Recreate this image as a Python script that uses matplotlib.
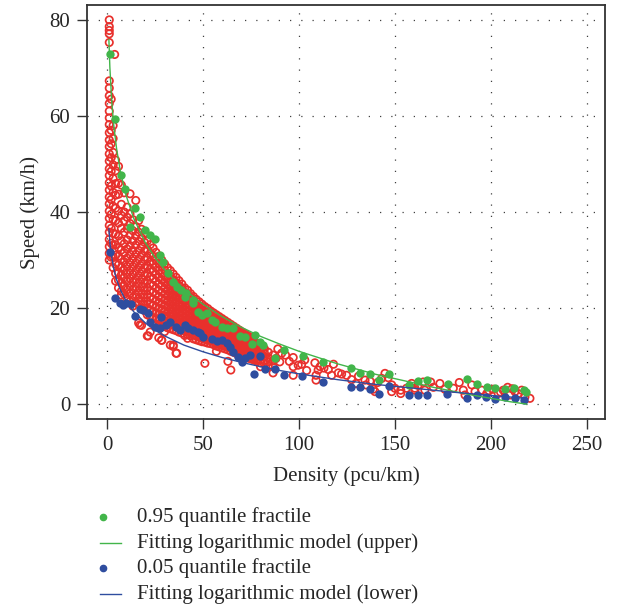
import matplotlib
matplotlib.use("Agg")
import matplotlib.pyplot as plt
from matplotlib.lines import Line2D

plt.rcParams['font.family'] = ['Liberation Serif', 'DejaVu Serif']

# observed speed/density points, grouped in columns of roughly equal density
red_col_k = [1.2, 2.2, 3.2, 4.5, 6.0, 7.5, 9.0, 10.5, 12.0, 13.5, 15.0, 16.5, 18.0,
             19.5, 21.0, 22.5, 24.0, 25.5, 27.0, 28.5, 30.0, 31.5, 33.0, 34.5, 36.0,
             37.5, 39.0, 40.5, 42.0, 43.5, 45.0, 46.5, 48.0, 49.5, 51.0, 52.5, 54.0,
             55.5, 57.0, 58.5, 60.0, 61.5, 63.0, 64.5, 66.0, 67.5, 69.0, 70.5, 72.0,
             73.5, 75.0, 76.5, 78.0, 80.0, 82.0, 84.0, 86.5]
red_col_v = [
    [80.0, 78.6, 77.8, 77.1, 75.3, 67.3, 65.8, 64.2, 62.6, 61.0, 59.6, 58.2, 56.5, 55.0, 53.6,
     52.1, 50.6, 49.0, 47.6, 46.1, 44.6, 43.1, 41.7, 40.2, 38.7, 37.2, 35.8, 34.3, 32.8, 31.4, 30.0],
    [57.0, 54.2, 51.3, 48.5, 45.4, 42.6, 39.5, 36.6, 33.5, 30.6],
    [58.0, 55.3, 52.4, 49.8, 47.0, 44.1, 41.2, 38.4, 35.6, 33.1, 30.7, 28.4],
    [50.8, 48.6, 45.9, 43.5, 40.8, 38.2, 35.4, 33.2, 31.0, 29.1, 27.2, 25.6],
    [49.5, 46.0, 43.7, 40.2, 37.7, 35.0, 32.6, 30.8, 29.0, 27.4, 25.8, 24.2],
    [45.6, 41.6, 39.3, 36.6, 34.0, 32.1, 30.2, 28.5, 26.9, 25.2, 23.5, 22.7],
    [44.0, 40.0, 38.2, 35.8, 33.4, 31.5, 29.6, 27.9, 26.3, 24.6, 22.9],
    [41.0, 38.9, 36.5, 34.2, 32.3, 30.4, 28.7, 27.1, 25.5, 23.8, 22.0],
    [43.8, 39.6, 37.6, 35.2, 33.0, 31.2, 29.5, 27.8, 26.2, 24.6, 23.0, 21.4],
    [38.4, 36.1, 34.0, 32.0, 30.3, 28.6, 27.0, 25.4, 23.8, 22.2, 20.4],
    [42.4, 37.0, 35.0, 33.1, 31.2, 29.4, 27.7, 26.0, 24.4, 22.8, 21.2],
    [38.2, 35.8, 33.9, 32.0, 30.2, 28.5, 26.8, 25.2, 23.6, 22.0, 20.8, 16.9],
    [36.4, 34.6, 32.8, 31.0, 29.2, 27.6, 26.0, 24.4, 22.9, 21.4, 20.0, 16.4],
    [35.6, 33.7, 31.9, 30.1, 28.4, 26.8, 25.2, 23.7, 22.2, 20.8, 19.5],
    [34.0, 32.2, 30.5, 28.8, 27.2, 25.7, 24.2, 22.8, 21.4, 20.0, 18.6, 14.2],
    [33.2, 31.4, 29.7, 28.1, 26.5, 25.0, 23.6, 22.2, 20.9, 19.6, 18.3, 15.0],
    [32.5, 30.8, 29.2, 27.6, 26.1, 24.7, 23.3, 21.9, 20.6, 19.3, 18.0, 16.8],
    [31.6, 30.0, 28.5, 27.0, 25.6, 24.2, 22.9, 21.6, 20.3, 19.0, 17.8, 16.6],
    [30.8, 29.3, 27.8, 26.4, 25.0, 23.7, 22.4, 21.2, 20.0, 18.8, 17.6, 16.4, 13.8],
    [30.0, 28.6, 27.2, 25.9, 24.6, 23.3, 22.1, 20.9, 19.7, 18.5, 17.3, 16.2, 13.3],
    [29.2, 27.9, 26.6, 25.3, 24.1, 22.9, 21.7, 20.6, 19.5, 18.4, 17.3, 16.2, 15.1],
    [28.4, 27.2, 26.0, 24.8, 23.6, 22.5, 21.4, 20.3, 19.2, 18.1, 17.0, 15.9],
    [27.8, 26.6, 25.4, 24.2, 23.1, 22.0, 20.9, 19.8, 18.8, 17.8, 16.8, 15.7, 12.3],
    [27.1, 25.9, 24.8, 23.7, 22.6, 21.5, 20.5, 19.5, 18.5, 17.5, 16.5, 15.5, 12.0],
    [26.4, 25.3, 24.2, 23.2, 22.2, 21.2, 20.2, 19.2, 18.2, 17.3, 16.3, 15.3, 10.6],
    [25.7, 24.7, 23.7, 22.7, 21.7, 20.7, 19.8, 18.9, 17.9, 17.0, 16.0, 15.0],
    [25.0, 24.0, 23.0, 22.1, 21.2, 20.3, 19.4, 18.5, 17.6, 16.7, 15.8, 14.8],
    [24.2, 23.3, 22.4, 21.5, 20.6, 19.7, 18.8, 17.9, 17.0, 16.1, 15.2, 14.3],
    [23.7, 22.8, 21.9, 21.0, 20.1, 19.3, 18.5, 17.7, 16.9, 16.1, 15.3, 14.5, 13.7],
    [23.0, 22.2, 21.4, 20.6, 19.8, 19.0, 18.2, 17.4, 16.6, 15.8, 15.0, 14.2],
    [22.4, 21.6, 20.8, 20.0, 19.2, 18.4, 17.6, 16.8, 16.0, 15.2, 14.4, 13.6],
    [21.8, 21.0, 20.3, 19.5, 18.8, 18.0, 17.3, 16.5, 15.8, 15.0, 14.2, 13.4],
    [21.3, 20.5, 19.8, 19.1, 18.4, 17.6, 16.9, 16.2, 15.5, 14.7, 14.0, 13.2],
    [20.8, 20.1, 19.4, 18.7, 18.0, 17.3, 16.6, 15.9, 15.2, 14.5, 13.8, 13.0],
    [20.3, 19.6, 18.9, 18.2, 17.5, 16.9, 16.2, 15.6, 14.9, 14.3, 13.6, 12.9, 8.5],
    [19.9, 19.2, 18.5, 17.9, 17.3, 16.6, 16.0, 15.3, 14.7, 14.0, 13.4, 12.7],
    [19.4, 18.8, 18.1, 17.5, 16.9, 16.3, 15.7, 15.1, 14.5, 13.8, 13.2, 12.6],
    [19.0, 18.4, 17.8, 17.2, 16.6, 16.0, 15.4, 14.8, 14.2, 13.6, 13.0, 12.4],
    [18.6, 18.0, 17.4, 16.8, 16.2, 15.7, 15.1, 14.5, 13.9, 13.3, 12.7, 12.1, 11.0],
    [18.2, 17.6, 17.0, 16.5, 15.9, 15.4, 14.8, 14.2, 13.7, 13.1, 12.5, 11.9],
    [17.8, 17.2, 16.7, 16.1, 15.6, 15.1, 14.5, 14.0, 13.4, 12.9, 12.3, 11.7],
    [17.4, 16.9, 16.3, 15.8, 15.3, 14.8, 14.3, 13.7, 13.2, 12.7, 12.1, 11.5],
    [17.0, 16.5, 16.0, 15.5, 15.0, 14.5, 14.0, 13.5, 13.0, 12.4, 11.9, 11.3, 8.9],
    [16.6, 16.1, 15.6, 15.1, 14.6, 14.1, 13.6, 13.1, 12.6, 12.1, 11.6, 11.0, 7.1],
    [16.2, 15.7, 15.2, 14.8, 14.3, 13.8, 13.3, 12.8, 12.3, 11.8, 11.3, 10.8],
    [15.8, 15.3, 14.9, 14.4, 14.0, 13.5, 13.0, 12.5, 12.0, 11.5, 11.0, 10.5],
    [15.4, 15.0, 14.5, 14.1, 13.6, 13.2, 12.7, 12.2, 11.8, 11.3, 10.8, 10.3],
    [15.0, 14.6, 14.2, 13.7, 13.3, 12.9, 12.4, 12.0, 11.5, 11.0, 10.6, 10.1],
    [14.6, 14.2, 13.8, 13.4, 13.0, 12.6, 12.1, 11.7, 11.3, 10.8, 10.3, 9.9],
    [14.2, 13.8, 13.4, 13.0, 12.6, 12.2, 11.8, 11.4, 11.0, 10.5, 10.1, 9.6],
    [13.8, 13.4, 13.0, 12.6, 12.2, 11.8, 11.4, 11.0, 10.6, 10.2, 9.8, 9.4],
    [13.2, 12.8, 12.4, 12.0, 11.6, 11.2, 10.8, 10.4, 10.0, 9.6, 9.2],
    [12.7, 12.2, 11.8, 11.3, 10.9, 10.5, 10.1, 9.7, 9.3, 8.9],
    [12.3, 11.6, 11.0, 10.4, 9.8, 9.2, 8.6, 7.8],
    [11.5, 10.6, 9.9, 9.0, 8.4],
    [10.8, 9.6, 8.8, 7.9],
    [10.2, 9.0, 7.8, 6.5],
]

# scattered observations (outliers and the sparse high-density tail)
red_k = [4.0, 2.2, 17.2, 21.5, 28.5, 34.5, 36.3, 88, 89, 90, 91, 93, 95, 97, 97, 97, 99.6,
         101.4, 103, 104, 108.3, 108.9, 108.9, 110, 111, 113, 115.3, 117, 118, 120.5, 122.2,
         124.8, 127.4, 129.7, 131, 134.4, 134.9, 137, 138.7, 139.6, 141, 143.1, 144.8, 146.5,
         148.3, 148.3, 150, 153, 153, 156, 158.7, 160.4, 160.4, 162, 164.7, 165.6, 168.6, 170,
         173.4, 176, 180.4, 183.5, 185.6, 186.5, 190, 191.7, 195.2, 197.8, 199, 201.2, 203.8,
         205, 206.4, 208.7, 209.9, 211, 212.5, 214.2, 216, 217.7, 220.3]
red_v = [72.8, 63.5, 16.5, 14.2, 13.3, 12.3, 10.6, 9.5, 11.5, 8.8, 10.6, 10.2, 8.9, 9.7, 7.8, 6.0,
         8.1, 8.3, 9.2, 7.0, 8.6, 6.0, 5.0, 7.1, 7.8, 7.5, 7.2, 6.0, 8.3, 6.5, 6.25, 6.0, 5.1, 4.3,
         5.8, 5.0, 4.0, 4.8, 3.1, 2.6, 4.5, 5.35, 6.4, 5.5, 4.0, 2.6, 3.3, 2.9, 2.2, 3.3, 4.3, 3.3,
         2.9, 3.9, 4.6, 2.9, 4.6, 3.5, 4.3, 3.1, 3.3, 4.5, 2.9, 1.9, 4.0, 2.6, 2.9, 2.2, 2.8, 3.1,
         2.2, 2.5, 2.9, 3.5, 1.9, 3.2, 2.6, 2.2, 2.9, 1.5, 1.2]

# 0.95 quantile fractile
upper_k = [1.7, 4.3, 7.1, 9.2, 12.1, 14.4, 17.0, 19.6, 22.2, 24.8, 27.4, 29.2, 31.8, 34.4,
           36.6, 38.7, 40.6, 41.3, 44.8, 45.0, 47.4, 49.3, 51.9, 54.5, 56.2, 59.7, 62.3, 65.8,
           69.3, 71.9, 75.4, 77.1, 79.7, 81.4, 87.5, 92.2, 101.9, 112.3, 127.1, 131.8, 137.0,
           141.8, 147.0, 157.5, 162.2, 166.5, 177.4, 187.3, 192.5, 197.8, 202.0, 207.3, 212.2,
           217.3, 218.0]
upper_v = [72.8, 59.4, 47.8, 44.7, 36.9, 40.9, 38.9, 36.25, 35.2, 34.3, 31.0, 29.6, 27.2, 25.5,
           24.4, 23.75, 22.4, 23.1, 21.7, 21.0, 19.2, 18.5, 18.9, 17.5, 17.1, 16.1, 15.8, 15.8,
           14.2, 13.9, 12.6, 14.4, 13.0, 12.3, 9.5, 11.2, 10.0, 8.8, 7.6, 6.4, 6.25,
           5.1, 6.25, 4.0, 4.9, 5.0, 4.1, 5.2, 4.1, 3.6, 3.3, 3.1, 3.3,
           2.9, 2.5]

# 0.05 quantile fractile
lower_k = [1.7, 4.0, 6.6, 8.3, 10.1, 12.7, 14.4, 17.0, 18.75, 21.4, 22.2, 25.2, 27.4, 28.3,
           30.9, 32.6, 36.1, 37.8, 40.4, 42.2, 45.0, 47.4, 48.4, 50.2, 54.5, 57.1, 59.7, 62.3,
           64.1, 65.8, 68.4, 70.1, 71.9, 74.5, 76.7, 79.7, 82.3, 87.5, 92.2, 101.6, 112.3,
           127.1, 131.8, 137.0, 141.8, 147.0, 157.5, 162.2, 166.5, 177.3, 187.3, 192.5, 197.4,
           202.0, 207.3, 212.5, 217.3]
lower_v = [31.7, 22.0, 21.0, 20.6, 21.0, 20.8, 18.3, 19.9, 19.6, 19.0, 17.1, 16.0, 15.8, 18.1,
           16.5, 17.1, 16.1, 15.4, 16.5, 15.8, 15.4, 15.1, 14.9, 14.0, 13.5, 13.2, 13.3, 12.8,
           11.9, 10.9, 9.9, 8.8, 9.5, 10.2, 6.2, 10.0, 7.3, 7.3, 6.0, 5.8, 4.5,
           3.5, 3.5, 3.2, 2.1, 3.75, 1.9, 1.9, 2.0, 2.2, 1.2, 1.9, 1.5,
           1.0, 1.5, 1.3, 0.8]

# fitted logarithmic curves
fit_up_k = [1, 1.5, 2.5, 3.5, 5, 7, 10, 14, 20, 25, 30, 40, 50, 60, 70, 80, 90, 100, 110,
            120, 130, 140, 150, 160, 170, 180, 190, 200, 210, 218.5]
fit_up_v = [75.9, 70.2, 62.9, 58.2, 53.2, 48.4, 43.4, 38.6, 33.6, 30.5, 28.0, 23.9, 20.8, 18.2,
            16.0, 14.1, 12.5, 11.0, 9.7, 8.4, 7.3, 6.2, 5.3, 4.4, 3.5, 2.7, 1.9, 1.2, 0.5, 0.0]
fit_lo_k = [1, 1.6, 2.5, 3.5, 5, 7, 10, 14, 20, 25, 30, 40, 50, 60, 70, 80, 90, 100, 120,
            140, 160, 180, 200, 218.5]
fit_lo_v = [36.5, 33.4, 30.5, 28.3, 25.9, 23.8, 21.4, 19.2, 16.9, 15.4, 14.2, 12.3, 10.9, 9.7,
            8.7, 7.8, 7.0, 6.3, 5.1, 4.1, 3.3, 2.5, 1.8, 1.2]

RED = '#e8302c'
GREEN = '#42b54a'
BLUE = '#2f4d9f'
FS = 15

fig = plt.figure(figsize=(6.18, 6.09), dpi=100)
ax = fig.add_axes([87 / 618, 1 - 419 / 609, 518 / 618, 414 / 609])

all_k = []
all_v = []
for k, vs in zip(red_col_k, red_col_v):
    all_k += [k] * len(vs)
    all_v += vs
all_k += red_k
all_v += red_v

ax.scatter(all_k, all_v, s=28, facecolors='none', edgecolors=RED, linewidths=1.25, zorder=2)
ax.scatter(upper_k, upper_v, s=36, color=GREEN, zorder=3, linewidths=0)
ax.scatter(lower_k, lower_v, s=36, color=BLUE, zorder=3, linewidths=0)
ax.plot(fit_up_k, fit_up_v, color=GREEN, lw=1.0, zorder=4)
ax.plot(fit_lo_k, fit_lo_v, color=BLUE, lw=1.0, zorder=4)

ax.set_xlim(-10.4, 259.4)
ax.set_ylim(-3.1, 83.1)
ax.set_xticks([0, 50, 100, 150, 200, 250])
ax.set_yticks([0, 20, 40, 60, 80])
ax.grid(True, color='0.25', linestyle=(0, (1, 8)), linewidth=0.9)
ax.set_axisbelow(True)
for sp in ax.spines.values():
    sp.set_linewidth(1.3)
    sp.set_color('0.2')
ax.tick_params(direction='out', length=7, width=1.0, color='0.2', labelsize=FS,
               labelcolor='0.15', pad=5)
ax.set_xlabel('Density (pcu/km)', fontsize=FS, color='0.15', labelpad=8)
ax.set_ylabel('Speed (km/h)', fontsize=FS, color='0.15', labelpad=7)

# legend drawn below the axes, R style
rows = [517, 543, 568, 594]
labels = ['0.95 quantile fractile', 'Fitting logarithmic model (upper)',
          '0.05 quantile fractile', 'Fitting logarithmic model (lower)']
for i, (py, lab) in enumerate(zip(rows, labels)):
    yf = 1 - py / 609
    col = GREEN if i < 2 else BLUE
    if i % 2 == 0:
        fig.add_artist(Line2D([103 / 618], [yf], marker='o', markersize=4.5, color=col,
                              linestyle='none', transform=fig.transFigure))
    else:
        fig.add_artist(Line2D([100 / 618, 121 / 618], [yf, yf], color=col, lw=1.0,
                              transform=fig.transFigure))
    fig.text(137 / 618, yf, lab, fontsize=FS, color='0.15', va='center', ha='left')

fig.savefig('out.png', dpi=100)
